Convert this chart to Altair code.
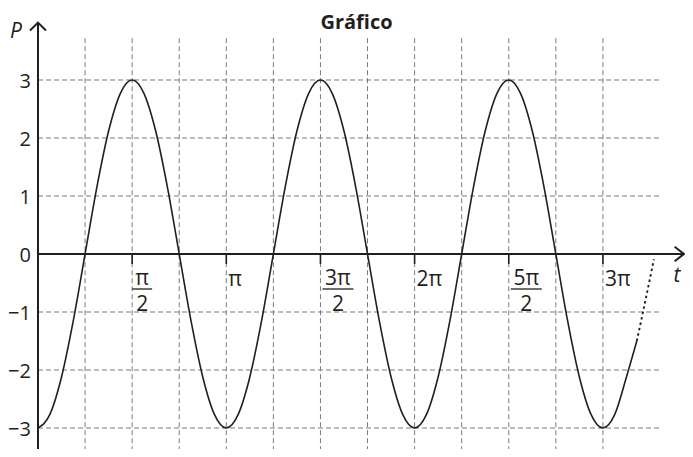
import altair as alt
import pandas as pd

# ---------------- values (t in multiples of pi) ----------------
CURVE_T = [0, 0.0625, 0.125, 0.1875, 0.25, 0.3125, 0.375, 0.4375,
           0.5, 0.5625, 0.625, 0.6875, 0.75, 0.8125, 0.875, 0.9375,
           1, 1.0625, 1.125, 1.1875, 1.25, 1.3125, 1.375, 1.4375,
           1.5, 1.5625, 1.625, 1.6875, 1.75, 1.8125, 1.875, 1.9375,
           2, 2.0625, 2.125, 2.1875, 2.25, 2.3125, 2.375, 2.4375,
           2.5, 2.5625, 2.625, 2.6875, 2.75, 2.8125, 2.875, 2.9375,
           3, 3.0625, 3.125, 3.18]
CURVE_P = [-3, -2.77, -2.12, -1.15, 0, 1.15, 2.12, 2.77,
           3, 2.77, 2.12, 1.15, 0, -1.15, -2.12, -2.77,
           -3, -2.77, -2.12, -1.15, 0, 1.15, 2.12, 2.77,
           3, 2.77, 2.12, 1.15, 0, -1.15, -2.12, -2.77,
           -3, -2.77, -2.12, -1.15, 0, 1.15, 2.12, 2.77,
           3, 2.77, 2.12, 1.15, 0, -1.15, -2.12, -2.77,
           -3, -2.77, -2.12, -1.5]
DOT_T = [3.18, 3.213, 3.271]
DOT_P = [-1.5, -1.0, -0.09]

GRID_T = [0.25, 0.5, 0.75, 1, 1.25, 1.5, 1.75, 2, 2.25, 2.5, 2.75, 3]
GRID_P = [3, 2, 1, -1, -2, -3]
VGRID_EXTENT = [-3.4, 3.73]
HGRID_EXTENT = [0, 3.30]
X_AXIS_EXTENT = [0, 3.43]
Y_AXIS_EXTENT = [-3.4, 3.99]

Y_TICKS = [3, 2, 1, 0, -1, -2, -3]
Y_LABELS = ["3", "2", "1", "0", "\u22121", "\u22122", "\u22123"]
X_TICKS = [0.5, 1, 1.5, 2, 2.5, 3]
X_SIMPLE_T = [1, 2, 3]
X_SIMPLE_LABELS = ["π", "2π", "3π"]
FRAC_NARROW_T = [0.5]
FRAC_NARROW_NUM = ["π"]
FRAC_WIDE_T = [1.5, 2.5]
FRAC_WIDE_NUM = ["3π", "5π"]
FRAC_DEN = "2"

TITLE = "Gráfico"
X_NAME = "t"
Y_NAME = "P"

# ---------------- style ----------------
INK = "#231f20"
GRID = "#7a7a7a"
FONT = "Open Sans"
FS = 21

XS = alt.Scale(domain=[-0.1593, 3.436], nice=False, zero=False)
YS = alt.Scale(domain=[-3.362, 3.9655], nice=False, zero=False)


def X(f):
    return alt.X(f, type="quantitative", scale=XS, axis=None)


def Y(f):
    return alt.Y(f, type="quantitative", scale=YS, axis=None)


curve_df = pd.DataFrame({"t": CURVE_T, "P": CURVE_P})
dot_df = pd.DataFrame({"t": DOT_T, "P": DOT_P})
vgrid_df = pd.DataFrame({"t": GRID_T, "lo": VGRID_EXTENT[0], "hi": VGRID_EXTENT[1]})
hgrid_df = pd.DataFrame({"P": GRID_P, "lo": HGRID_EXTENT[0], "hi": HGRID_EXTENT[1]})
xaxis_df = pd.DataFrame({"P": [0], "lo": [X_AXIS_EXTENT[0]], "hi": [X_AXIS_EXTENT[1]]})
yaxis_df = pd.DataFrame({"t": [0], "lo": [Y_AXIS_EXTENT[0]], "hi": [Y_AXIS_EXTENT[1]]})
xarrow_df = pd.DataFrame({"t": [X_AXIS_EXTENT[1]], "P": [0], "name": [X_NAME]})
yarrow_df = pd.DataFrame({"t": [0], "P": [Y_AXIS_EXTENT[1]], "name": [Y_NAME]})
xticks_df = pd.DataFrame({"t": X_TICKS, "P": 0})
ylab_df = pd.DataFrame({"t": 0, "P": Y_TICKS, "label": Y_LABELS})
xsimple_df = pd.DataFrame({"t": X_SIMPLE_T, "P": 0, "label": X_SIMPLE_LABELS})
fn_df = pd.DataFrame({"t": FRAC_NARROW_T, "P": 0, "num": FRAC_NARROW_NUM, "den": FRAC_DEN})
fw_df = pd.DataFrame({"t": FRAC_WIDE_T, "P": 0, "num": FRAC_WIDE_NUM, "den": FRAC_DEN})

dash = [5, 3]
vgrid = alt.Chart(vgrid_df).mark_rule(color=GRID, strokeWidth=1, strokeDash=dash).encode(
    x=X("t"), y=Y("lo"), y2="hi")
hgrid = alt.Chart(hgrid_df).mark_rule(color=GRID, strokeWidth=1, strokeDash=dash).encode(
    y=Y("P"), x=X("lo"), x2="hi")

xaxis = alt.Chart(xaxis_df).mark_rule(color=INK, strokeWidth=2).encode(
    y=Y("P"), x=X("lo"), x2="hi")
yaxis = alt.Chart(yaxis_df).mark_rule(color=INK, strokeWidth=2).encode(
    x=X("t"), y=Y("lo"), y2="hi")

xarrow = alt.Chart(xarrow_df).mark_point(
    shape="M -1.15 -0.9 L 0 0 L -1.15 0.9", filled=False, size=256,
    color=INK, strokeWidth=2, opacity=1).encode(x=X("t"), y=Y("P"))
yarrow = alt.Chart(yarrow_df).mark_point(
    shape="M -1 1 L 0 0 L 1 1", filled=False, size=256,
    color=INK, strokeWidth=2, opacity=1).encode(x=X("t"), y=Y("P"))

xname = alt.Chart(xarrow_df).mark_text(
    font=FONT, fontSize=FS, fontStyle="italic", color=INK, align="center",
    baseline="alphabetic", dx=-7, dy=28).encode(x=X("t"), y=Y("P"), text="name")
yname = alt.Chart(yarrow_df).mark_text(
    font=FONT, fontSize=FS, fontStyle="italic", color=INK, align="center",
    baseline="alphabetic", dx=-22, dy=15).encode(x=X("t"), y=Y("P"), text="name")

xticks = alt.Chart(xticks_df).mark_rule(color=INK, strokeWidth=1.6, y2Offset=10).encode(
    x=X("t"), y=Y("P"), y2="P")

curve = alt.Chart(curve_df).mark_line(color=INK, strokeWidth=1.6, interpolate="monotone").encode(
    x=X("t"), y=Y("P"))
dotted = alt.Chart(dot_df).mark_line(color=INK, strokeWidth=1.9, strokeDash=[2.5, 3],
                                     interpolate="monotone").encode(x=X("t"), y=Y("P"))

ylab = alt.Chart(ylab_df).mark_text(
    font=FONT, fontSize=20, color=INK, align="right", baseline="alphabetic",
    dx=-7, dy=8).encode(x=X("t"), y=Y("P"), text="label")
xsimple = alt.Chart(xsimple_df).mark_text(
    font=FONT, fontSize=FS, color=INK, align="left", baseline="alphabetic",
    dx=2, dy=32).encode(x=X("t"), y=Y("P"), text="label")


def fraction(df, center, width):
    num = alt.Chart(df).mark_text(
        font=FONT, fontSize=FS, color=INK, align="center", baseline="alphabetic",
        dx=center, dy=31).encode(x=X("t"), y=Y("P"), text="num")
    den = alt.Chart(df).mark_text(
        font=FONT, fontSize=FS, color=INK, align="center", baseline="alphabetic",
        dx=center, dy=57).encode(x=X("t"), y=Y("P"), text="den")
    bar = alt.Chart(df).mark_rule(
        color=INK, strokeWidth=1.3, xOffset=center - width / 2, x2Offset=center + width / 2,
        yOffset=35, y2Offset=35).encode(x=X("t"), x2="t", y=Y("P"), y2="P")
    return [num, den, bar]


layers = [vgrid, hgrid, xaxis, yaxis, xarrow, yarrow, xticks, curve, dotted,
          ylab, xsimple, xname, yname] + fraction(fn_df, 10, 20) + fraction(fw_df, 17.5, 31)

chart = alt.layer(*layers).properties(
    width=677, height=425,
    autosize=alt.AutoSizeParams(type="none"),
    padding={"left": 0, "top": 16, "right": 0, "bottom": 0},
    title=alt.TitleParams(TITLE, font=FONT, fontSize=20, fontWeight="bold", color=INK,
                          anchor="middle", frame="group", baseline="alphabetic",
                          offset=1, dx=10, dy=31),
).configure_view(stroke=None)

chart.save("out.html", embed_options={"renderer": "svg", "actions": False})
